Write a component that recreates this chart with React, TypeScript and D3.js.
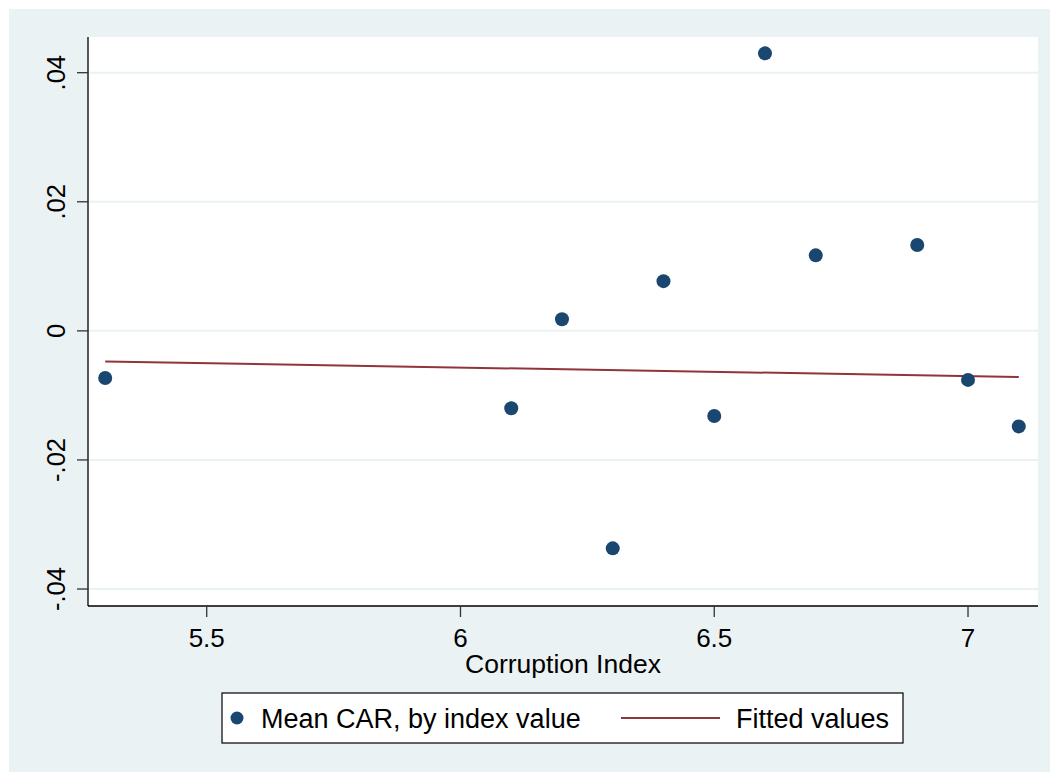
import React from "react";
import * as d3 from "d3";

const corruptionIndex = [5.3, 6.1, 6.2, 6.3, 6.4, 6.5, 6.6, 6.7, 6.9, 7.0, 7.1];
const meanCAR = [-0.0073, -0.012, 0.0018, -0.0337, 0.0077, -0.0132, 0.043, 0.0117, 0.0133, -0.0076, -0.0148];
const fitX = [5.3, 7.1];
const fitY = [-0.00476, -0.00714];
const xTicks = [5.5, 6, 6.5, 7];
const xTickLabels = ["5.5", "6", "6.5", "7"];
const yTicks = [-0.04, -0.02, 0, 0.02, 0.04];
const yTickLabels = ["-.04", "-.02", "0", ".02", ".04"];

const BG = "#EAF2F3";
const NAVY = "#1a476f";
const MAROON = "#90353b";
const FONT = "Arial, 'Liberation Sans', sans-serif";

export default function App() {
  const left = 88, right = 1038, top = 37, bottom = 606;
  const x = d3.scaleLinear().domain([5.2661, 7.1379]).range([left, right]);
  const y = d3.scaleLinear().domain([-0.04263, 0.04553]).range([bottom, top]);
  const line = d3
    .line<number>()
    .x((_, i) => x(fitX[i]))
    .y((d) => y(d));

  return (
    <svg
      width={1050}
      height={772}
      style={{ position: "absolute", left: 0, top: 0 }}
      fontFamily={FONT}
    >
      <rect x={0} y={0} width={1050} height={772} fill="#ffffff" />
      <rect x={9} y={9} width={1041} height={763} fill={BG} />
      <rect x={left} y={top} width={right - left} height={bottom - top} fill="#ffffff" />
      {yTicks.map((t) => (
        <line key={"g" + t} x1={left} x2={right} y1={y(t)} y2={y(t)} stroke={BG} strokeWidth={2} />
      ))}
      {/* axes */}
      <line x1={left} x2={left} y1={top} y2={bottom} stroke="#000" strokeWidth={1.3} />
      <line x1={left} x2={right} y1={bottom} y2={bottom} stroke="#000" strokeWidth={1.3} />
      {yTicks.map((t, i) => (
        <g key={"yt" + t}>
          <line x1={left - 11} x2={left} y1={y(t)} y2={y(t)} stroke="#333" strokeWidth={1.3} />
          <text
            transform={`translate(${65},${y(t)}) rotate(-90)`}
            textAnchor="middle"
            fontSize={25.5}
            fill="#000"
          >
            {yTickLabels[i]}
          </text>
        </g>
      ))}
      {xTicks.map((t, i) => (
        <g key={"xt" + t}>
          <line x1={x(t)} x2={x(t)} y1={bottom} y2={bottom + 11} stroke="#333" strokeWidth={1.3} />
          <text x={x(t)} y={647} textAnchor="middle" fontSize={26} fill="#000">
            {xTickLabels[i]}
          </text>
        </g>
      ))}
      <text x={(left + right) / 2} y={673} textAnchor="middle" fontSize={26.5} fill="#000">
        Corruption Index
      </text>
      {/* fitted line */}
      <path d={line(fitY) || ""} fill="none" stroke={MAROON} strokeWidth={2} />
      {/* points */}
      {corruptionIndex.map((v, i) => (
        <circle key={"p" + i} cx={x(v)} cy={y(meanCAR[i])} r={7} fill={NAVY} />
      ))}
      {/* legend */}
      <rect x={222} y={693} width={681} height={50} fill="#ffffff" stroke="#000" strokeWidth={1.2} />
      <circle cx={237} cy={718} r={6.5} fill={NAVY} />
      <text x={261} y={727.5} fontSize={27} fill="#000">
        Mean CAR, by index value
      </text>
      <line x1={621} x2={720} y1={718} y2={718} stroke={MAROON} strokeWidth={2} />
      <text x={736} y={727.5} fontSize={27} fill="#000">
        Fitted values
      </text>
    </svg>
  );
}
